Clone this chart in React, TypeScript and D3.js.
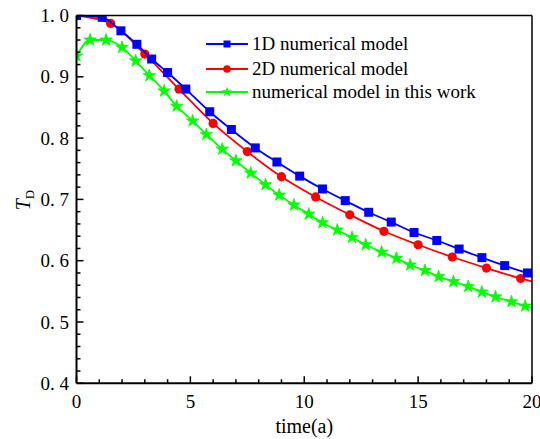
import React from "react";
import * as d3 from "d3";

const blueX = [0, 1.13, 1.95, 2.65, 3.3, 4.0, 4.8, 5.85, 6.8, 7.85, 8.8, 9.8, 10.8, 11.8, 12.83, 13.82, 14.82, 15.82, 16.8, 17.8, 18.8, 19.8, 20];
const blueY = [1.0, 0.997, 0.975, 0.953, 0.929, 0.907, 0.880, 0.843, 0.814, 0.784, 0.761, 0.738, 0.717, 0.698, 0.679, 0.663, 0.646, 0.633, 0.619, 0.605, 0.592, 0.580, 0.578];
const redX = [0, 1.5, 3.0, 4.5, 6.0, 7.5, 9.0, 10.5, 12.0, 13.5, 15.0, 16.5, 18.0, 19.5, 20];
const redY = [1.0, 0.987, 0.937, 0.880, 0.824, 0.778, 0.737, 0.704, 0.675, 0.648, 0.626, 0.606, 0.588, 0.571, 0.566];
const greenX = [0, 0.6, 1.3, 2.0, 2.6, 3.2, 3.85, 4.4, 5.1, 5.7, 6.4, 7.0, 7.65, 8.3, 8.9, 9.55, 10.2, 10.8, 11.45, 12.1, 12.7, 13.4, 14.05, 14.65, 15.3, 15.9, 16.55, 17.2, 17.8, 18.4, 19.1, 19.7, 20];
const greenY = [0.934, 0.960, 0.960, 0.948, 0.926, 0.902, 0.877, 0.852, 0.828, 0.806, 0.782, 0.763, 0.743, 0.724, 0.707, 0.691, 0.676, 0.662, 0.650, 0.638, 0.626, 0.614, 0.604, 0.593, 0.584, 0.574, 0.566, 0.558, 0.549, 0.541, 0.533, 0.526, 0.523];
const seriesNames = ["1D numerical model", "2D numerical model", "numerical model in this work"];
const xTicks = [0, 5, 10, 15, 20];
const yTicks = [0.4, 0.5, 0.6, 0.7, 0.8, 0.9, 1.0];
const yTickLabels = ["0. 4", "0. 5", "0. 6", "0. 7", "0. 8", "0. 9", "1. 0"];

const W = 540, H = 439;
const L = 76.5, R = 532, T = 15.5, B = 383.3;
const FONT = "'Liberation Serif', 'Times New Roman', serif";

export default function App() {
  const x = d3.scaleLinear().domain([0, 20]).range([L, R]);
  const y = d3.scaleLinear().domain([0.4, 1.0]).range([B, T]);
  const line = d3.line<[number, number]>().x(d => x(d[0])).y(d => y(d[1])).curve(d3.curveMonotoneX);
  const zip = (a: number[], b: number[]) => a.map((v, i) => [v, b[i]] as [number, number]);
  const blue = zip(blueX, blueY);
  const red = zip(redX, redY);
  const green = zip(greenX, greenY);
  const starPath = d3.symbol().type(d3.symbolStar).size(48)() as string;
  const xMinor = d3.range(0, 20.001, 1);
  const yMinor = d3.range(0.4, 1.0001, 0.02);

  const markerLast = (arr: [number, number][], xs: number[]) => arr.filter((_, i) => i < xs.length - 1);

  return (
    <svg width={W} height={H} style={{ position: "absolute", left: 0, top: 0, background: "#fff" }} fontFamily={FONT}>
      <defs>
        <clipPath id="plot"><rect x={L} y={T} width={R - L} height={B - T} /></clipPath>
      </defs>
      <g clipPath="url(#plot)">
        <path d={line(green) || ""} fill="none" stroke="#00ff00" strokeWidth={1.8} />
        {markerLast(green, greenX).map((d, i) => (
          <path key={"g" + i} d={starPath} transform={`translate(${x(d[0])},${y(d[1])})`} fill="#00ff00" stroke="#00ff00" strokeWidth={0.8} />
        ))}
        <path d={line(red) || ""} fill="none" stroke="#ff0000" strokeWidth={1.8} />
        {markerLast(red, redX).map((d, i) => (
          <circle key={"r" + i} cx={x(d[0])} cy={y(d[1])} r={4.6} fill="#ff0000" />
        ))}
        <path d={line(blue) || ""} fill="none" stroke="#0000ff" strokeWidth={1.8} />
        {markerLast(blue, blueX).map((d, i) => (
          <rect key={"b" + i} x={x(d[0]) - 4.5} y={y(d[1]) - 4.5} width={9} height={9} fill="#0000ff" />
        ))}
      </g>
      {/* frame */}
      <line x1={L} x2={R} y1={T} y2={T} stroke="#000" strokeWidth={1.5} />
      <line x1={R} x2={R} y1={T} y2={B} stroke="#000" strokeWidth={1.5} />
      <line x1={L} x2={L} y1={T} y2={B} stroke="#000" strokeWidth={2} />
      <line x1={L} x2={R} y1={B} y2={B} stroke="#000" strokeWidth={2} />
      {/* ticks */}
      {xMinor.map((v, i) => (
        <line key={"xm" + i} x1={x(v)} x2={x(v)} y1={B} y2={B - (i % 5 === 0 ? 7 : 4)} stroke="#000" strokeWidth={1.5} />
      ))}
      {yMinor.map((v, i) => (
        <line key={"ym" + i} x1={L} x2={L + (i % 5 === 0 ? 7 : 4)} y1={y(v)} y2={y(v)} stroke="#000" strokeWidth={1.5} />
      ))}
      {xTicks.map((v, i) => (
        <text key={"xt" + i} x={x(v)} y={408} textAnchor="middle" fontSize={19} fill="#000">{v}</text>
      ))}
      {yTicks.map((v, i) => (
        <text key={"yt" + i} x={69} y={y(v) + 6.5} textAnchor="end" fontSize={19} fill="#000">{yTickLabels[i]}</text>
      ))}
      <text x={(L + R) / 2} y={433} textAnchor="middle" fontSize={20} fill="#000">time(a)</text>
      <text transform="translate(30,200) rotate(-90)" textAnchor="middle" fontSize={20} fill="#000">
        <tspan fontStyle="italic">T</tspan>
        <tspan fontSize={13} dy={4}>D</tspan>
      </text>
      {/* legend */}
      {seriesNames.map((name, i) => {
        const ly = [44, 69, 92][i];
        const col = ["#0000ff", "#ff0000", "#00ff00"][i];
        return (
          <g key={"lg" + i}>
            <line x1={206} x2={248} y1={ly} y2={ly} stroke={col} strokeWidth={1.8} />
            {i === 0 && <rect x={223.5} y={ly - 3.5} width={7} height={7} fill={col} />}
            {i === 1 && <circle cx={227} cy={ly} r={3.8} fill={col} />}
            {i === 2 && <path d={starPath} transform={`translate(227,${ly}) scale(0.85)`} fill={col} />}
            <text x={252} y={ly + 6} fontSize={19} fill="#000">{name}</text>
          </g>
        );
      })}
    </svg>
  );
}
